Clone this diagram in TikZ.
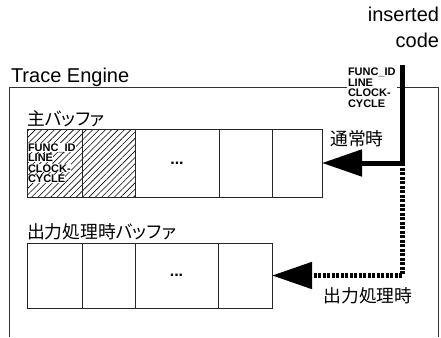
\documentclass[tikz,border=0pt]{standalone}
\usepackage{fontspec}
\setmainfont{Liberation Sans}
\newfontfamily\jp[RawFeature=+palt]{Noto Sans CJK JP}
\usetikzlibrary{arrows.meta,patterns.meta}
\newcommand{\fld}[1]{{\setlength{\fboxsep}{0pt}\colorbox{white}{#1}}}

\begin{document}
\begin{tikzpicture}[x=1pt,y=-1pt,
  every node/.style={inner sep=0pt,outer sep=0pt},
  cell/.style={draw=black!85,line width=0.8pt,minimum height=68pt},
  ocell/.style={draw=black!85,line width=0.8pt,minimum height=65pt},
  hatch/.style={pattern={Lines[angle=45,distance=4.5pt,line width=0.6pt]}},
  big/.style={font=\fontsize{20}{26}\selectfont},
  jplabel/.style={font=\fontsize{17.8}{20}\selectfont\jp},
  fields/.style={font=\fontsize{11}{10.5}\selectfont\bfseries,align=left},
  dots/.style={font=\fontsize{16}{16}\selectfont\bfseries},
  feed/.style={line width=5pt,line join=miter,-{Triangle[length=40pt,width=26pt]}},
  feeddot/.style={feed,dash pattern=on 3pt off 1.5pt}]
\useasboundingbox (0,0) rectangle (441,337);
% trace engine frame, open at the bottom
\draw[black!80,line width=0.8pt] (9,337) |- (438,87) -- (438,337);
\node[big,anchor=base west] (engine) at (11,82) {Trace Engine};
\node[big,align=right,anchor=north east] (code) at (439,7) {inserted\\code};
\node[fields,fill=white,inner sep=1pt,anchor=north west] (rec) at (347,67) {FUNC\_ID\\LINE\\CLOCK-\\CYCLE};
% main buffer
\node[jplabel,anchor=base west] (mainlbl) at (27,125) {主バッファ};
\node[cell,hatch,minimum width=55pt] (m1) at (54.5,163) {};
\node[cell,hatch,minimum width=53pt] (m2) at (108.5,163) {};
\node[cell,minimum width=84pt] (m3) at (177,163) {};
\node[cell,minimum width=53pt] (m4) at (245.5,163) {};
\node[cell,minimum width=50pt] (m5) at (297,163) {};
\node[fields,anchor=west] (m1txt) at (28,163) {\fld{FUNC\_ID}\\\fld{LINE}\\\fld{CLOCK-}\\\fld{CYCLE}};
\node[dots] (mdots) at (m3) {...};
% output buffer
\node[jplabel,anchor=base west] (outlbl) at (27,238) {出力処理時バッファ};
\node[ocell,minimum width=55pt] (o1) at (54.5,275.5) {};
\node[ocell,minimum width=53pt] (o2) at (108.5,275.5) {};
\node[ocell,minimum width=83pt] (o3) at (176.5,275.5) {};
\node[ocell,minimum width=54pt] (o4) at (245,275.5) {};
\node[dots] (odots) at (o3) {...};
% paths from inserted code
\coordinate (top) at (402,65);
\coordinate (split) at (402,163);
\draw[feeddot] (split) |- (o4.east);
\draw[feed] (top) |- (m5.east);
\node[jplabel] (normal) at (357,138.5) {通常時};
\node[jplabel] (outtime) at (368,295.5) {出力処理時};
\end{tikzpicture}
\end{document}
